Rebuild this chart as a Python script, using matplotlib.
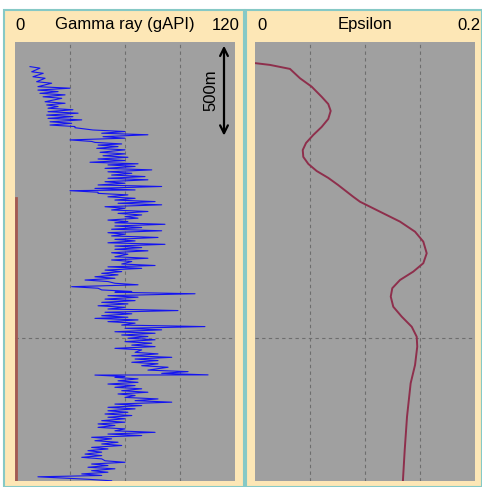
import matplotlib
matplotlib.use('Agg')
from matplotlib import pyplot as plt
from matplotlib.patches import Rectangle

plt.rcParams['font.family'] = ['Liberation Sans', 'DejaVu Sans']

# ---------------------------------
# Gamma ray log (depth in m, gAPI)
# each depth row: low and high swing
# ---------------------------------
gr_depth = [129, 156, 182, 208, 234, 252, 269, 287, 313, 330, 347, 365, 383, 400, 418,
            435, 449, 461, 478, 496, 513, 526, 540, 557, 578, 596, 613, 630,
            644, 662, 680, 697, 714, 732, 749, 767, 779, 793, 811, 828, 845, 863,
            880, 898, 915, 933, 947, 964, 981, 999, 1016, 1034, 1052, 1069, 1086,
            1104, 1125, 1142, 1163,
            1178, 1195, 1212, 1230, 1247, 1264, 1282, 1299, 1311, 1329, 1347, 1364,
            1382, 1399, 1416, 1434, 1448, 1465, 1483, 1500, 1518, 1535, 1552, 1570,
            1588, 1605, 1626, 1644, 1661, 1678, 1696, 1719, 1736,
            1745, 1757, 1775, 1792, 1809, 1827, 1844, 1862, 1879, 1897, 1914, 1932,
            1949, 1966, 1984, 2001, 2019, 2037, 2054, 2071, 2089, 2106, 2124, 2141,
            2159, 2176, 2194, 2211, 2228, 2246, 2263, 2278, 2291]
gr_low = [8.2, 9.1, 9.8, 11.8, 12.5, 12.5, 13.6, 15.3, 16.4, 17.3, 18.0, 18.0, 17.3, 18.0, 19.1,
          19.1, 32.7, 42.5, 47.3, 48.0, 30.0, 43.6, 45.3, 44.6, 46.4, 48.0, 45.3, 40.9,
          50.7, 49.1, 50.7, 52.7, 50.7, 49.1, 45.3, 43.6, 30.0, 45.3, 50.7, 54.5, 56.2, 49.1,
          52.7, 56.2, 60.0, 50.7, 54.5, 54.5, 52.7, 50.7, 52.7, 54.5, 50.7, 54.5, 54.5,
          52.7, 54.5, 52.7, 58.2,
          50.7, 49.1, 47.3, 43.6, 38.2, 54.5, 30.9, 47.3, 54.5, 50.7, 49.1, 47.3,
          45.3, 50.7, 49.1, 47.3, 43.6, 50.7, 58.2, 60.0, 54.5, 58.2, 61.6, 60.0,
          63.7, 54.5, 65.5, 63.7, 65.5, 63.7, 69.1, 72.5, 80.0,
          43.6, 54.5, 56.2, 50.7, 54.5, 58.2, 56.2, 60.0, 65.5, 54.5, 50.7, 50.7,
          49.1, 50.7, 47.3, 45.3, 45.3, 54.5, 50.7, 41.8, 43.6, 47.3, 41.8, 39.8,
          38.2, 36.4, 49.1, 41.8, 39.8, 41.8, 36.4, 12.5, 39.8]
gr_high = [13.6, 15.4, 16.4, 20.0, 30.0, 23.5, 27.3, 25.5, 27.3, 23.5, 31.6, 34.4, 31.6, 36.4, 30.9,
           32.7, 39.1, 60.0, 72.5, 60.0, 41.8, 58.2, 56.2, 60.0, 60.0, 61.6, 60.0, 67.1,
           65.5, 74.6, 63.7, 70.9, 72.5, 60.0, 80.0, 65.5, 45.3, 61.6, 65.5, 76.4, 80.0, 60.0,
           72.5, 69.1, 67.1, 61.6, 81.8, 69.1, 80.0, 60.0, 78.0, 65.5, 81.8, 69.1, 72.5,
           61.6, 72.5, 63.7, 76.4,
           69.1, 58.2, 56.2, 54.5, 50.7, 67.1, 45.3, 63.7, 98.2, 67.1, 65.5, 61.6,
           60.0, 88.9, 63.7, 61.6, 67.1, 65.5, 103.6, 80.0, 76.4, 72.5, 76.4, 74.6,
           76.4, 69.1, 78.0, 85.5, 78.0, 78.0, 83.5, 94.4, 105.3,
           60.0, 67.1, 67.1, 65.5, 69.1, 72.5, 65.5, 78.0, 85.5, 69.1, 65.5, 61.6,
           63.7, 60.0, 60.0, 54.5, 60.0, 76.4, 69.1, 52.7, 56.2, 58.2, 50.7, 47.3,
           47.3, 47.3, 60.0, 50.7, 54.5, 50.7, 47.3, 28.9, 52.7]

# thin red trace hugging the left edge of the gamma track
red_depth = [817, 2300]
red_value = [0.6, 0.6]

# ---------------------------------
# Epsilon log
# ---------------------------------
eps_depth = [111, 120, 141, 190, 234, 287, 325, 361, 403, 445, 487, 529, 566, 602,
             639, 676, 712, 749, 810, 837, 889, 941, 994, 1046, 1107, 1159, 1203,
             1247, 1290, 1334, 1387, 1439, 1492, 1544, 1596, 1692, 1788, 1963, 2138, 2295]
eps_value = [0.0005, 0.0136, 0.0318, 0.0409, 0.0515, 0.0606, 0.0666, 0.0688, 0.0666,
             0.0606, 0.0530, 0.0464, 0.0434, 0.0439, 0.0485, 0.0561, 0.0666, 0.0755,
             0.0891, 0.0955, 0.1136, 0.1318, 0.1455, 0.1530, 0.1561, 0.1530, 0.1439,
             0.1318, 0.1248, 0.1234, 0.1257, 0.1334, 0.1425, 0.1470, 0.1475, 0.1455,
             0.1415, 0.1382, 0.1361, 0.1345]

depth_max = 2300
marker_depth = 1550

# build the gamma zigzag from the read low/high swings
zz_depth = []
zz_value = []
for d, lo, hi in zip(gr_depth, gr_low, gr_high):
    zz_depth += [d, d + 8]
    zz_value += [lo, hi]

W, H = 482, 487
fig = plt.figure(figsize=(W / 100, H / 100), dpi=100)
fig.patch.set_facecolor('white')

cream = '#FDE7B6'
teal = '#86C9C6'
fig.patches.append(Rectangle((4 / W, 0), 240 / W, 1 - 10 / H, transform=fig.transFigure,
                             facecolor=cream, edgecolor=teal, lw=1.5, zorder=-5))
fig.patches.append(Rectangle((246 / W, 0), 236 / W, 1 - 10 / H, transform=fig.transFigure,
                             facecolor=cream, edgecolor=teal, lw=1.5, zorder=-5))

ax1 = fig.add_axes([15 / W, 1 - 481 / H, 220 / W, 439 / H])
ax2 = fig.add_axes([255 / W, 1 - 481 / H, 220 / W, 439 / H])

for ax, xmax in [(ax1, 120), (ax2, 0.2)]:
    ax.set_facecolor('#A0A0A0')
    ax.set_xlim(0, xmax)
    ax.set_ylim(depth_max, 0)
    ax.set_xticks([])
    ax.set_yticks([])
    for s in ax.spines.values():
        s.set_visible(False)
    for k in (1, 2, 3):
        ax.axvline(xmax * k / 4, color='#6E6E6E', lw=0.8, ls=(0, (3, 3)), zorder=1)
    ax.axhline(marker_depth, color='#6E6E6E', lw=0.8, ls=(0, (3, 3)), zorder=1)

ax1.plot(zz_value, zz_depth, color='#1414F0', lw=0.8, zorder=3)
ax1.plot(red_value, red_depth, color='#A45A52', lw=2, zorder=3)
ax1.annotate('', xy=(114, 5), xytext=(114, 505),
             arrowprops=dict(arrowstyle='<->', color='black', lw=1.6, mutation_scale=14))
ax1.text(107, 255, '500m', rotation=90, ha='center', va='center', fontsize=12)

ax2.plot(eps_value, eps_depth, color='#8E2F4C', lw=1.4, zorder=3,
         solid_joinstyle='round')

# header labels
ty = 1 - 25 / H
fs = 12
fig.text(20 / W, ty, '0', ha='center', va='center', fontsize=fs)
fig.text(125 / W, ty, 'Gamma ray (gAPI)', ha='center', va='center', fontsize=fs)
fig.text(226 / W, ty, '120', ha='center', va='center', fontsize=fs)
fig.text(262 / W, ty, '0', ha='center', va='center', fontsize=fs)
fig.text(365 / W, ty, 'Epsilon', ha='center', va='center', fontsize=fs)
fig.text(481 / W, ty, '0.2', ha='right', va='center', fontsize=fs)

plt.savefig('out.png', dpi=100)
plt.close()
